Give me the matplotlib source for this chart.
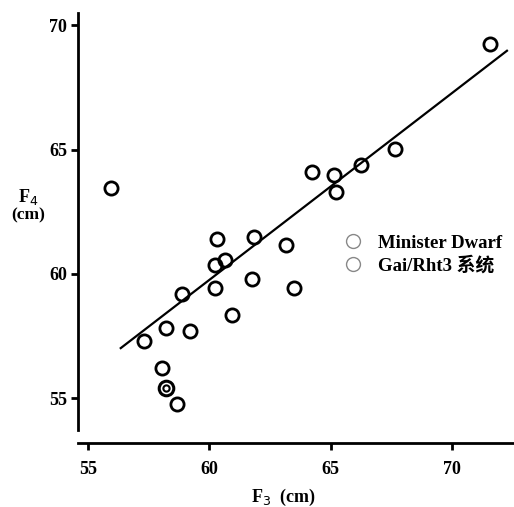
import matplotlib.pyplot as plt
from matplotlib.lines import Line2D

# Gai/Rht3 lines (F3 vs F4 plant height, cm)
f3 = [55.95, 57.30, 58.04, 58.66, 58.21, 59.23, 58.90, 60.22, 60.26, 60.67,
      60.34, 60.96, 61.78, 61.86, 63.18, 63.51, 64.25, 65.15, 65.23, 66.26,
      67.66, 71.56]
f4 = [63.47, 57.29, 56.20, 54.76, 57.81, 57.69, 59.18, 59.42, 60.34, 60.54,
      61.39, 58.33, 59.78, 61.47, 61.18, 59.42, 64.08, 63.96, 63.31, 64.40,
      65.04, 69.26]

# Minister Dwarf
md_f3 = [58.21]
md_f4 = [55.40]

# regression line end points
fit_x = [56.36, 72.26]
fit_y = [57.01, 68.98]

xticks = [55, 60, 65, 70]
yticks = [55, 60, 65, 70]

plt.rcParams['font.family'] = ['Liberation Serif', 'Noto Sans CJK SC']

fig = plt.figure(figsize=(5.14, 5.07), dpi=100)
ax = fig.add_axes([78 / 514, 1 - 443 / 507, (514 - 78) / 514, (443 - 13) / 507])

ax.plot(fit_x, fit_y, color='black', linewidth=1.6)
ax.plot(f3, f4, linestyle='none', marker='o', markersize=9.5,
        markerfacecolor='none', markeredgecolor='black', markeredgewidth=2.0)
ax.plot(md_f3, md_f4, linestyle='none', marker='o', markersize=10.5,
        markerfacecolor='none', markeredgecolor='black', markeredgewidth=2.2)
ax.plot(md_f3, md_f4, linestyle='none', marker='o', markersize=4.5,
        markerfacecolor='none', markeredgecolor='black', markeredgewidth=1.5)

ax.set_xlim(54.6, 72.55)
ax.set_ylim(53.19, 70.5)

for s in ['top', 'right']:
    ax.spines[s].set_visible(False)
ax.spines['left'].set_bounds(53.71, 70.5)
ax.spines['left'].set_linewidth(2.0)
ax.spines['bottom'].set_linewidth(2.0)

ax.set_xticks(xticks)
ax.set_yticks(yticks)
ax.tick_params(direction='out', length=5, width=2, labelsize=13)
ax.tick_params(axis='x', pad=8)
ax.tick_params(axis='y', pad=3)
for lab in ax.get_xticklabels() + ax.get_yticklabels():
    lab.set_fontweight('bold')

fig.text(283 / 514, 1 - 497 / 507, 'F$_3$  (cm)', ha='center', va='center',
         fontsize=13, fontweight='bold')
fig.text(28 / 514, 1 - 197 / 507, 'F$_4$', ha='center', va='center',
         fontsize=13, fontweight='bold')
fig.text(28 / 514, 1 - 215 / 507, '(cm)', ha='center', va='center',
         fontsize=12.5, fontweight='bold')

handles = [
    Line2D([], [], linestyle='none', marker='o', markersize=10,
           markerfacecolor='none', markeredgecolor='#888888', markeredgewidth=1.0),
    Line2D([], [], linestyle='none', marker='o', markersize=10,
           markerfacecolor='none', markeredgecolor='#888888', markeredgewidth=1.0),
]
ax.legend(handles, ['Minister Dwarf', 'Gai/Rht3 系统'], loc='upper left',
          bbox_to_anchor=((327 - 78) / 436, 1 - (227 - 13) / 430), frameon=False,
          handletextpad=0.3, labelspacing=0.25, borderaxespad=0,
          prop={'size': 13.5, 'weight': 'bold'})

fig.savefig('out.png', dpi=100)
